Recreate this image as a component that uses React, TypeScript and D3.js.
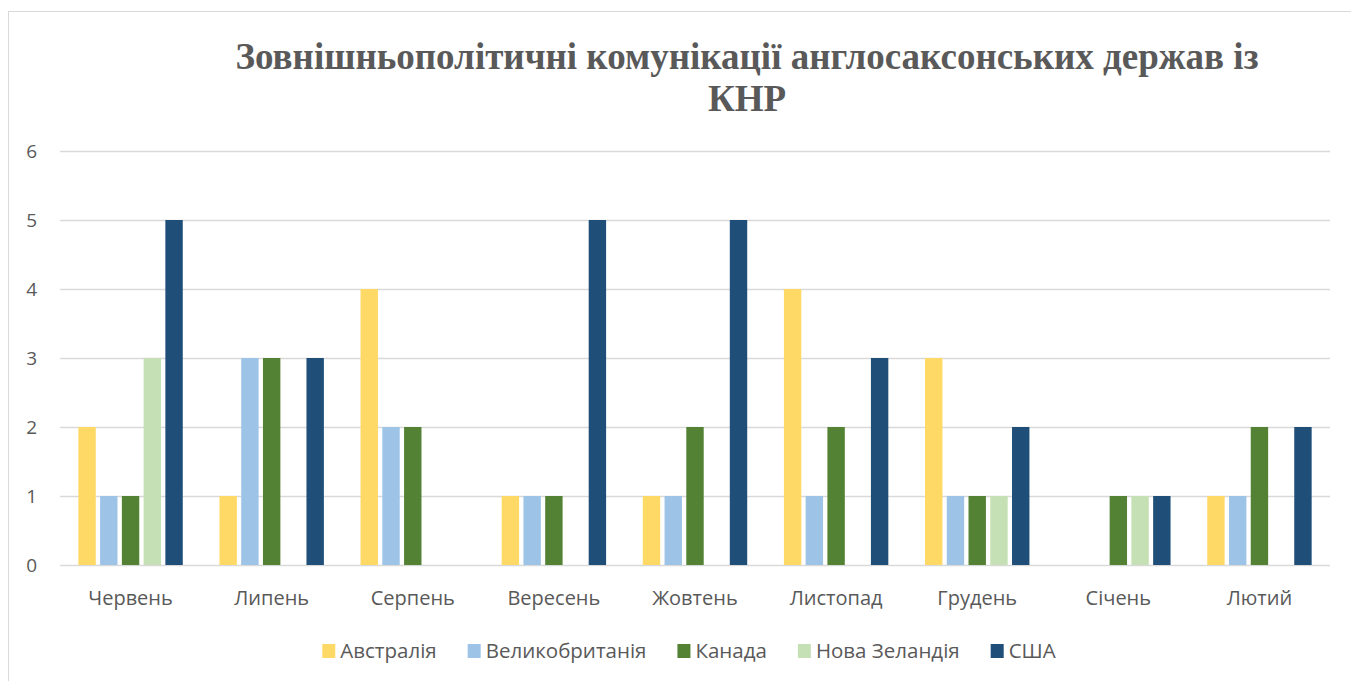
import React, { useRef, useEffect } from 'react';
import { select, scaleBand, scaleLinear, range } from 'd3';

const months = ['Червень', 'Липень', 'Серпень', 'Вересень', 'Жовтень', 'Листопад', 'Грудень', 'Січень', 'Лютий'];
const countries = ['Австралія', 'Великобританія', 'Канада', 'Нова Зеландія', 'США'];
const colors = ['#FFD966', '#9DC3E6', '#548235', '#C5E0B4', '#1F4E79'];

const australia = [2, 1, 4, 1, 1, 4, 3, 0, 1];
const britain = [1, 3, 2, 1, 1, 1, 1, 0, 1];
const canada = [1, 3, 2, 1, 2, 2, 1, 1, 2];
const newZealand = [3, 0, 0, 0, 0, 0, 1, 1, 0];
const usa = [5, 3, 0, 5, 5, 3, 2, 1, 2];
const series = [australia, britain, canada, newZealand, usa];

const yTicks = [0, 1, 2, 3, 4, 5, 6];
const titleLines = ['Зовнішньополітичні комунікації англосаксонських держав із', 'КНР'];

const W = 1351;
const H = 681;
const sans = "'Open Sans', 'Noto Sans', sans-serif";

function App() {
  const svgRef = useRef(null);

  useEffect(() => {
    const svg = select(svgRef.current);
    svg.selectAll('*').remove();

    const left = 60, right = 1330, top = 151, bottom = 565;

    // chart frame (runs off the right and bottom edges, as in the original)
    svg.append('rect')
      .attr('x', 8.5).attr('y', 11.5)
      .attr('width', 1360).attr('height', 690)
      .attr('fill', '#fff').attr('stroke', '#d9d9d9');

    const x = scaleBand().domain(months).range([left, right]);
    const y = scaleLinear().domain([0, 6]).range([bottom, top]);

    // gridlines
    svg.append('g').selectAll('line').data(yTicks).join('line')
      .attr('x1', left).attr('x2', right)
      .attr('y1', d => Math.round(y(d)) + 0.5).attr('y2', d => Math.round(y(d)) + 0.5)
      .attr('stroke', '#d9d9d9').attr('stroke-width', 1.5);

    svg.append('g').selectAll('text').data(yTicks).join('text')
      .attr('x', 37).attr('y', d => y(d) + 7)
      .attr('text-anchor', 'end')
      .attr('font-family', sans).attr('font-size', 19).attr('fill', '#595959')
      .text(d => d);

    // bars
    const bw = x.bandwidth();
    const groupW = bw * 0.74;
    const inner = scaleBand().domain(range(countries.length).map(String))
      .range([(bw - groupW) / 2, (bw + groupW) / 2]).paddingInner(0.2).paddingOuter(0);

    series.forEach((vals, si) => {
      svg.append('g').attr('fill', colors[si])
        .selectAll('rect').data(vals.map((v, i) => ({ v, m: months[i] })).filter(d => d.v > 0)).join('rect')
        .attr('x', d => x(d.m) + inner(String(si)))
        .attr('width', inner.bandwidth())
        .attr('y', d => y(d.v))
        .attr('height', d => y(0) - y(d.v));
    });

    // x labels
    svg.append('g').selectAll('text').data(months).join('text')
      .attr('x', d => x(d) + bw / 2).attr('y', 605)
      .attr('text-anchor', 'middle')
      .attr('font-family', sans).attr('font-size', 20).attr('fill', '#595959')
      .text(d => d);

    // title
    svg.append('g').selectAll('text').data(titleLines).join('text')
      .attr('x', 747).attr('y', (d, i) => 69 + i * 42)
      .attr('text-anchor', 'middle')
      .attr('font-family', "'Liberation Serif', serif").attr('font-weight', 'bold')
      .attr('font-size', 37).attr('fill', '#595959')
      .text(d => d);

    // legend
    const legend = svg.append('g');
    const items = countries.map((c, i) => {
      const g = legend.append('g');
      g.append('rect').attr('x', 0).attr('y', -14).attr('width', 13).attr('height', 14).attr('fill', colors[i]);
      const t = g.append('text').attr('x', 18).attr('y', 0)
        .attr('font-family', sans).attr('font-size', 20.5).attr('fill', '#595959').text(c);
      const len = t.node().getComputedTextLength();
      return { g, w: 18 + len };
    });
    const gap = 31;
    const total = items.reduce((s, it) => s + it.w, 0) + gap * (items.length - 1);
    let pos = 689 - total / 2;
    items.forEach(it => {
      it.g.attr('transform', `translate(${pos},658)`);
      pos += it.w + gap;
    });
  }, []);

  return (
    <svg ref={svgRef} width={W} height={H} style={{ position: 'absolute', left: 0, top: 0 }} />
  );
}

export default App;
